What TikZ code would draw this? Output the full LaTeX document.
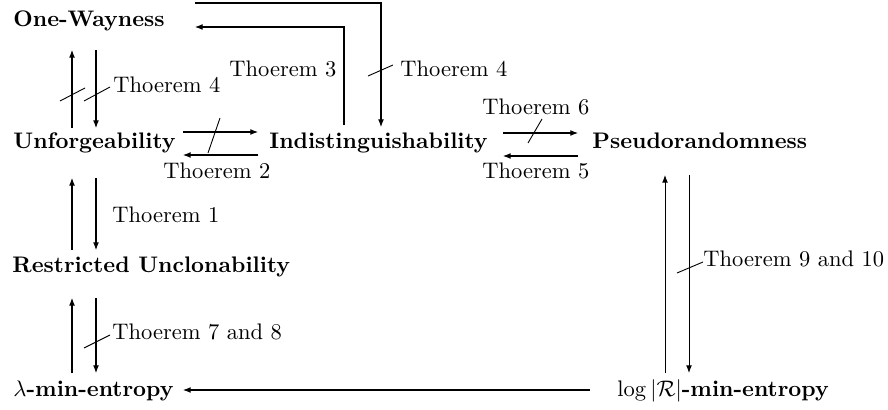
\documentclass[tikz,border=0pt]{standalone}
\usetikzlibrary{arrows.meta,calc}
\begin{document}
\begin{tikzpicture}[x=0.4444pt,y=-0.4444pt,
  lbl/.style={anchor=base west,inner sep=0pt,font=\bfseries},
  thm/.style={anchor=base west,inner sep=0pt},
  arr/.style={-{Latex[length=3.4pt,width=2.6pt]},line width=0.45pt},
  ln/.style={line width=0.4pt}]
\useasboundingbox (0,0) rectangle (888,410);
% main nodes
\node[lbl] (O) at (13,27) {One-Wayness};
\node[lbl] (U) at (13,149) {Unforgeability};
\node[lbl] (I) at (269,149) {Indistinguishability};
\node[lbl] (P) at (592,149) {Pseudorandomness};
\node[lbl] (R) at (12,273) {Restricted Unclonability};
\node[lbl] (L) at (13,396) {$\lambda$\textbf{-min-entropy}};
\node[lbl] (G) at (617,396) {$\log|\mathcal{R}|$\textbf{-min-entropy}};
% labels
\node[thm] (T4a) at (113,93) {Thoerem 4};
\node[thm] (T3) at (229,77) {Thoerem 3};
\node[thm] (T4b) at (400,77) {Thoerem 4};
\node[thm] (T2) at (163,179) {Thoerem 2};
\node[thm] (T6) at (482,115) {Thoerem 6};
\node[thm] (T5) at (482,179) {Thoerem 5};
\node[thm] (T1) at (112,223) {Thoerem 1};
\node[thm] (T78) at (112,340) {Thoerem 7 and 8};
\node[thm] (T910) at (703,267) {Thoerem 9 and 10};
% One-Wayness <-> Unforgeability
\draw[arr] ($(U.base west)+(59,-21)$) -- ($(O.base west)+(59,23)$);
\draw[arr] ($(O.base west)+(83,23)$) -- ($(U.base west)+(83,-21)$);
\draw[ln] (60,101) -- (85,88);
\draw[ln] ($(T4a.base west)+(-29,8)$) -- ($(T4a.base west)+(-3,-6)$);
% Unforgeability <-> Indistinguishability
\draw[arr] ($(U.base west)+(170,-17)$) -- ($(I.base west)+(-11,-17)$);
\draw[arr] ($(I.base west)+(-11,6)$) -- ($(U.base west)+(170,6)$);
\draw[ln] (208,153) -- (220,118);
% Indistinguishability -> One-Wayness
\draw[arr] ($(I.base west)+(75,-24)$) |- ($(O.base west)+(182,0)$);
% One-Wayness -> Indistinguishability
\draw[arr] ($(O.base west)+(182,-24)$) -| ($(I.base west)+(112,-22)$);
\draw[ln] (368,76) -- (393,65);
% Indistinguishability <-> Pseudorandomness
\draw[arr] ($(I.base west)+(234,-16)$) -- ($(P.base west)+(-14,-16)$);
\draw[arr] ($(P.base west)+(-14,7)$) -- ($(I.base west)+(234,7)$);
\draw[ln] (528,143) -- (542,119);
% Unforgeability <-> Restricted Unclonability
\draw[arr] ($(R.base west)+(60,-23)$) -- ($(U.base west)+(59,29)$);
\draw[arr] ($(U.base west)+(83,29)$) -- ($(R.base west)+(84,-23)$);
% Restricted Unclonability <-> lambda-min-entropy
\draw[arr] ($(L.base west)+(59,-23)$) -- ($(R.base west)+(60,25)$);
\draw[arr] ($(R.base west)+(84,25)$) -- ($(L.base west)+(83,-23)$);
\draw[ln] ($(T78.base west)+(-28,8)$) -- ($(T78.base west)+(-2,-5)$);
% log R -> lambda
\draw[arr] ($(G.base west)+(-27,-6)$) -- ($(L.base west)+(170,-6)$);
% log R <-> Pseudorandomness
\draw[arr] ($(G.base west)+(48,-23)$) -- ($(P.base west)+(73,26)$);
\draw[arr] ($(P.base west)+(97,26)$) -- ($(G.base west)+(72,-23)$);
\draw[ln] ($(T910.base west)+(-26,6)$) -- ($(T910.base west)+(0,-5)$);
\end{tikzpicture}
\end{document}
